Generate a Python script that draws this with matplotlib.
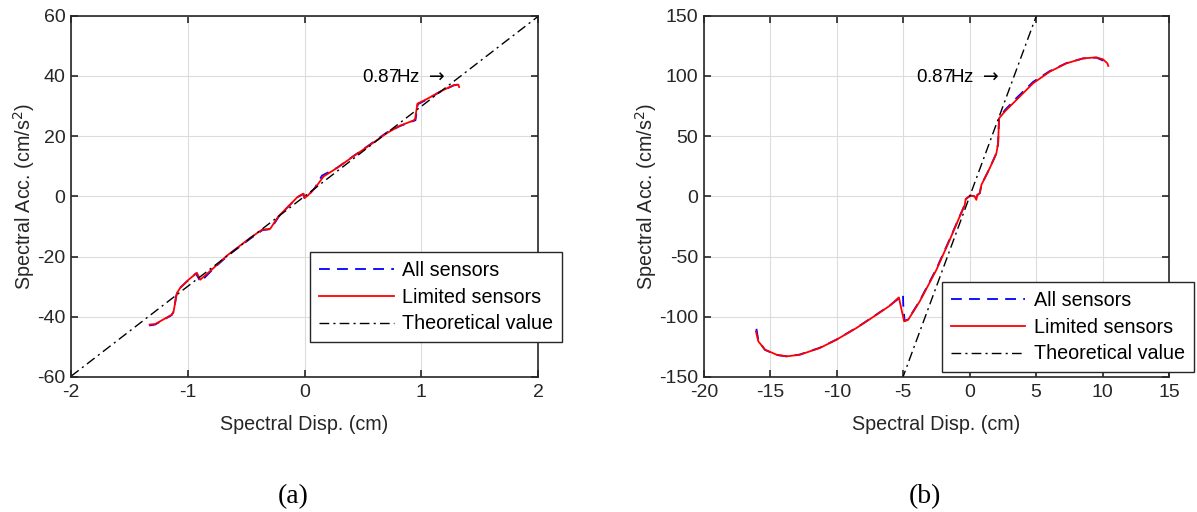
import matplotlib
matplotlib.use('Agg')
import matplotlib.pyplot as plt
import numpy as np

plt.rcParams['font.family'] = ['Liberation Sans', 'DejaVu Sans']
plt.rcParams['axes.unicode_minus'] = False

# (a) small amplitude
a_x_lim = [-1.327, -1.278, -1.136, -1.121, -1.093, -1.064, -0.993, -0.922, -0.893, -0.779,
           -0.665, -0.465, -0.365, -0.294, -0.223, -0.137, -0.060, -0.009, 0.0, 0.026,
           0.091, 0.163, 0.277, 0.419, 0.562, 0.705, 0.819, 0.933, 0.947, 0.967,
           1.047, 1.161, 1.275, 1.318, 1.324]
a_y_lim = [-42.6, -42.4, -39.3, -38.2, -32.1, -30.4, -27.7, -25.4, -27.7, -23.8,
           -19.7, -13.8, -11.1, -10.8, -6.6, -3.3, -0.2, 0.9, -0.55, 0.2,
           2.8, 6.6, 9.4, 13.3, 17.1, 21.0, 23.5, 25.2, 25.7, 30.8,
           32.3, 34.8, 36.9, 37.1, 36.3]
a_x_all = [-1.33, -1.28, -1.14, -1.12, -1.10, -1.08, -1.00, -0.93, -0.89, -0.78,
           -0.66, -0.46, -0.36, -0.29, -0.22, -0.14, -0.06, -0.01, 0.0, 0.03,
           0.09, 0.15, 0.28, 0.42, 0.56, 0.70, 0.82, 0.93, 0.95, 0.97,
           1.05, 1.16, 1.28, 1.32, 1.33]
a_y_all = [-42.9, -42.6, -39.5, -38.3, -33.2, -30.9, -28.0, -25.6, -28.4, -24.0,
           -19.8, -13.9, -11.2, -10.9, -6.7, -3.4, -0.3, 0.8, -0.6, 0.1,
           2.9, 6.9, 9.5, 13.4, 17.2, 21.1, 23.4, 25.0, 25.3, 30.6,
           32.2, 34.7, 36.9, 37.2, 37.0]

# (b) large amplitude
b_x_lim = [-16.09, -15.91, -15.41, -14.53, -13.78, -12.78, -11.27, -10.02, -8.52, -7.01,
           -6.01, -5.33, -5.13, -4.93, -4.63, -3.76, -2.50, -1.50, -0.75, -0.37,
           -0.30, -0.04, 0.06, 0.38, 0.50, 0.58, 0.76, 0.88, 1.51, 2.01,
           2.14, 2.21, 2.64, 3.51, 4.77, 6.02, 7.27, 8.53, 9.53, 10.03,
           10.36, 10.43]
b_y_lim = [-112.1, -120.4, -127.3, -131.5, -132.9, -131.5, -125.9, -119.0, -109.3, -98.3,
           -90.8, -83.9, -94.1, -103.8, -102.5, -87.2, -60.9, -36.1, -16.7, -7.0,
           -2.3, -0.1, 0.7, -0.1, -2.9, 1.2, 2.6, 9.5, 23.4, 35.8,
           44.1, 64.8, 70.4, 80.0, 93.9, 103.5, 110.4, 114.6, 115.4, 113.8,
           110.5, 108.3]
b_x_all = [-16.05, -15.90, -15.40, -14.50, -13.80, -12.80, -11.30, -10.00, -8.50, -7.00,
           -6.00, -5.30, -5.02, -5.00, -4.90, -4.62, -3.75, -2.50, -1.50, -0.75,
           -0.37, -0.30, -0.04, 0.06, 0.38, 0.50, 0.58, 0.76, 0.88, 1.51,
           2.01, 2.14, 2.21, 2.64, 3.51, 4.77, 6.02, 7.27, 8.53, 9.53,
           10.00, 10.28]
b_y_all = [-110.0, -120.0, -127.5, -131.8, -132.8, -131.4, -125.8, -118.8, -109.0, -98.0,
           -90.5, -84.5, -81.7, -90.0, -103.5, -102.0, -86.5, -60.0, -35.5, -16.5,
           -7.0, -2.3, -0.1, 0.7, -0.1, -2.9, 1.2, 2.6, 9.5, 23.4,
           35.8, 44.1, 64.8, 71.5, 81.5, 95.0, 104.0, 110.6, 114.5, 115.2,
           113.0, 107.7]

freq = 0.87
omega2 = (2 * np.pi * freq) ** 2
theo_x_a = [-2, 2]
theo_x_b = [-5.1, 5.1]

tick_fs = 14
lab_fs = 14.2
leg_fs = 14.2
fig = plt.figure(figsize=(11.97, 5.12), dpi=100)
ax1 = fig.add_axes([0.0593, 0.2637, 0.3902, 0.7056])
ax2 = fig.add_axes([0.5881, 0.2637, 0.3885, 0.7056])

panels = [
    (ax1, a_x_all, a_y_all, a_x_lim, a_y_lim, theo_x_a, (-2, 2), (-60, 60),
     np.arange(-2, 2.1, 1), np.arange(-60, 61, 20), (0.512, 0.097), (0.623, 0.83)),
    (ax2, b_x_all, b_y_all, b_x_lim, b_y_lim, theo_x_b, (-20, 15), (-150, 150),
     np.arange(-20, 16, 5), np.arange(-150, 151, 50), (0.512, 0.014), (0.457, 0.83)),
]

for ax, xa, ya, xl, yl, tx, xlim, ylim, xt, yt, legpos, txtpos in panels:
    ax.plot(xa, ya, color='blue', ls=(0, (6, 4)), lw=1.3, label='All sensors')
    ax.plot(xl, yl, color='red', lw=1.3, label='Limited sensors')
    ax.plot(tx, omega2 * np.array(tx), color='black', ls=(0, (7, 3, 1.5, 3)), lw=1.0,
            label='Theoretical value')
    ax.set_xlim(xlim)
    ax.set_ylim(ylim)
    ax.set_xticks(xt)
    ax.set_yticks(yt)
    ax.grid(True, color='#dcdcdc', lw=0.8)
    ax.set_axisbelow(True)
    ax.tick_params(direction='in', top=True, right=True, length=5, width=1.2,
                   labelsize=tick_fs, colors='#262626')
    ax.tick_params(axis='x', pad=5)
    ax.tick_params(axis='y', pad=4)
    for s in ax.spines.values():
        s.set_color('#262626')
        s.set_linewidth(1.2)
    ax.set_xlabel('Spectral Disp. (cm)', fontsize=lab_fs, color='#262626', labelpad=10)
    ax.set_ylabel('Spectral Acc. (cm/s$^2$)', fontsize=lab_fs, color='#262626', labelpad=0)
    ax.text(txtpos[0], txtpos[1], '0.87Hz $\\rightarrow$', transform=ax.transAxes,
            fontsize=13.5, ha='left', va='center')
    leg = ax.legend(loc='lower left', bbox_to_anchor=legpos, fontsize=leg_fs,
                    handlelength=3.8, fancybox=False, framealpha=1,
                    borderaxespad=0, edgecolor='#262626', borderpad=0.43,
                    labelspacing=0.4, handletextpad=0.45)
    leg.get_frame().set_linewidth(1.0)
    leg.set_clip_on(False)

fig.text(0.245, 0.018, '(a)', fontsize=20, family='Liberation Serif', ha='center')
fig.text(0.773, 0.018, '(b)', fontsize=20, family='Liberation Serif', ha='center')

fig.savefig('out.png', dpi=100)
